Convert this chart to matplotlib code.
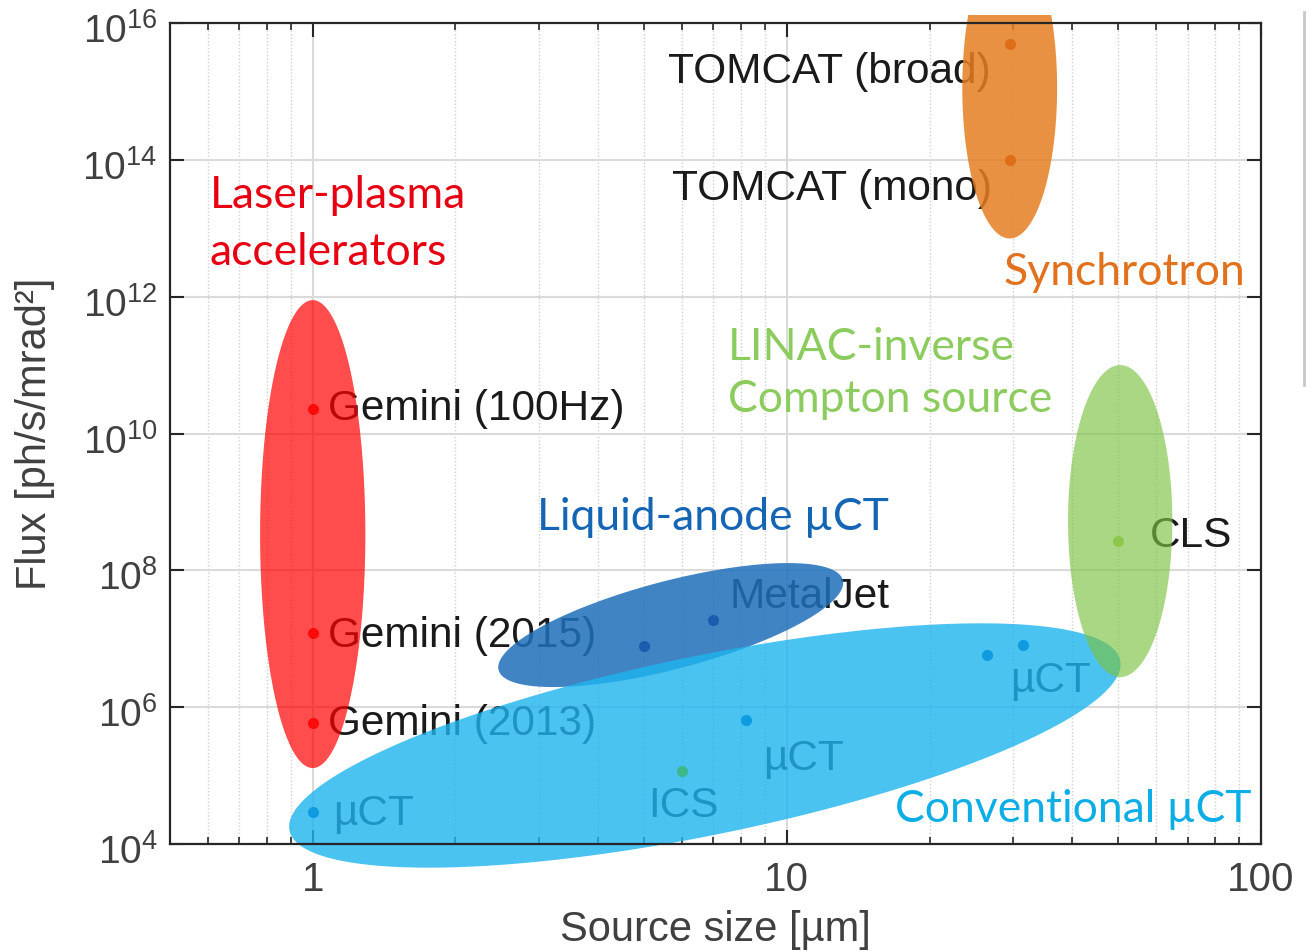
import numpy as np
import matplotlib
matplotlib.use("Agg")
import matplotlib.pyplot as plt
import matplotlib.transforms as mtransforms
from matplotlib.patches import Polygon, Rectangle
from matplotlib.lines import Line2D
from matplotlib.ticker import FixedLocator, FixedFormatter, NullFormatter, NullLocator

plt.rcParams['font.family'] = ['Liberation Sans', 'DejaVu Sans']
plt.rcParams['mathtext.fontset'] = 'custom'
plt.rcParams['mathtext.rm'] = 'Liberation Sans'
plt.rcParams['mathtext.it'] = 'Liberation Sans:italic'
plt.rcParams['mathtext.bf'] = 'Liberation Sans:bold'

# ---- data -------------------------------------------------------------
# source groups: ellipse centre (log10 size, log10 flux), semi-axis vectors in decades
group_names = ["Laser-plasma", "Synchrotron", "LINAC-ICS", "Liquid-anode", "Conventional"]
group_centers = [(0.0, 8.53), (1.47, 15.05), (1.703, 8.72), (0.755, 7.20), (0.827, 5.44)]
group_axis_a = [(0.111, 0.0), (0.10, 0.0), (0.11, 0.0), (0.363, 0.658), (0.876, 1.243)]
group_axis_b = [(0.0, 3.42), (0.0, 2.20), (0.0, 2.28), (0.0234, -0.623), (0.0378, -1.282)]
group_fill = ["#FF0000", "#E67E22", "#7CC242", "#1E6FBA", "#1EB4EE"]
group_alpha = [0.70, 0.85, 0.65, 0.85, 0.80]

# individual sources: size [um], flux [ph/s/mrad^2]
lpa_size = [1.0, 1.0, 1.0]
lpa_flux = [2.3e10, 1.2e7, 5.9e5]
sync_size = [29.6, 29.6]
sync_flux = [5.0e15, 1.0e14]
cls_size = [50.0]
cls_flux = [2.7e8]
metaljet_size = [5.0, 7.0]
metaljet_flux = [7.8e6, 1.9e7]
uct_size = [1.0, 8.2, 26.4, 31.5]
uct_flux = [2.9e4, 6.6e5, 5.8e6, 8.1e6]
ics_size = [6.0]
ics_flux = [1.15e5]

x_ticks = [1, 10, 100]
x_tick_labels = ["1", "10", "100"]
y_ticks = [1e4, 1e6, 1e8, 1e10, 1e12, 1e14, 1e16]
y_tick_labels = [r"$\mathregular{10^{%d}}$" % e for e in (4, 6, 8, 10, 12, 14, 16)]

# ---- figure -----------------------------------------------------------
W, H = 1312, 951
fig = plt.figure(figsize=(W / 100, H / 100), dpi=100)
ax = fig.add_axes([170 / W, 1 - 844 / H, (1261 - 170) / W, (844 - 23) / H])
ax.set_xscale("log")
ax.set_yscale("log")
ax.set_xlim(0.5, 100)
ax.set_ylim(1e4, 1e16)

# grid
minor_x = [m * 10.0 ** d for d in (-1, 0, 1) for m in range(2, 10) if 0.5 < m * 10.0 ** d < 100]
ax.xaxis.set_major_locator(FixedLocator(x_ticks))
ax.xaxis.set_major_formatter(FixedFormatter(x_tick_labels))
ax.xaxis.set_minor_locator(FixedLocator(minor_x))
ax.xaxis.set_minor_formatter(NullFormatter())
ax.yaxis.set_major_locator(FixedLocator(y_ticks))
ax.yaxis.set_major_formatter(FixedFormatter(y_tick_labels))
ax.yaxis.set_minor_locator(NullLocator())
ax.set_axisbelow(True)
ax.grid(True, which="major", color="#DADADA", lw=1.5)
ax.grid(True, which="minor", axis="x", color="#D0D0D0", lw=1.0, ls=(0, (1, 1.5)))

ax.tick_params(which="both", direction="in", top=True, right=True, color="#262626")
ax.tick_params(which="major", length=10, width=1.5, labelcolor="#404040", pad=9)
ax.tick_params(axis="y", which="major", labelsize=28)
ax.tick_params(axis="x", which="major", labelsize=29, pad=12)
ax.tick_params(which="minor", length=5, width=1.2)
for s in ax.spines.values():
    s.set_color("#262626")
    s.set_linewidth(1.6)

# nudge the power-of-ten labels down a little
shift = mtransforms.ScaledTranslation(0, -5 / 100, fig.dpi_scale_trans)
for lbl in ax.get_yticklabels():
    lbl.set_transform(lbl.get_transform() + shift)

ax.set_xlabel("Source size [µm]", fontsize=30, color="#404040", labelpad=8)
ax.set_ylabel("Flux [ph/s/mrad²]", fontsize=30, color="#404040", labelpad=20)

# source labels (drawn beneath the translucent regions)
lab_kw = dict(fontsize=30.5, color="#1A1A1A", ha="left", va="baseline", zorder=1)
source_labels = [
    ("TOMCAT (broad)", 0.749, 15.123),
    ("TOMCAT (mono)", 0.757, 13.412),
    ("Gemini (100Hz)", 0.033, 10.196),
    ("Gemini (2015)", 0.033, 6.877),
    ("Gemini (2013)", 0.033, 5.591),
    ("MetalJet", 0.880, 7.447),
    ("CLS", 1.766, 8.339),
    ("µCT", 0.042, 4.275),
    ("µCT", 0.949, 5.079),
    ("µCT", 1.470, 6.219),
    ("ICS", 0.707, 4.392),
]
for txt, lx, ly in source_labels:
    ax.text(10 ** lx, 10 ** ly, txt, **lab_kw)

# regions may spill past the frame, but not past the top margin
margin_clip = Rectangle((0, 0), 1, 1 - 15 / H, transform=fig.transFigure,
                        facecolor="none", edgecolor="none")
fig.add_artist(margin_clip)

# translucent source regions, built as ellipses in log-log space
t = np.linspace(0, 2 * np.pi, 400)
zorders = [2.0, 2.0, 2.3, 2.1, 2.2]
for c, a, b, fc, al, z in zip(group_centers, group_axis_a, group_axis_b, group_fill, group_alpha, zorders):
    lx = c[0] + np.cos(t) * a[0] + np.sin(t) * b[0]
    ly = c[1] + np.cos(t) * a[1] + np.sin(t) * b[1]
    poly = Polygon(np.column_stack([10 ** lx, 10 ** ly]), closed=True,
                   facecolor=fc, edgecolor="none", alpha=al, zorder=z)
    ax.add_patch(poly)
    poly.set_clip_path(margin_clip)

# source points
ms = 8
ax.plot(lpa_size, lpa_flux, "o", color="#FF0A0A", ms=ms, mec="none", zorder=3)
ax.plot(sync_size, sync_flux, "o", color="#DF6E18", ms=ms, mec="none", zorder=3)
ax.plot(cls_size, cls_flux, "o", color="#8CC84B", ms=ms, mec="none", zorder=3)
ax.plot(metaljet_size, metaljet_flux, "o", color="#1B5CB0", ms=ms, mec="none", zorder=3)
ax.plot(uct_size, uct_flux, "o", color="#0E9BE0", ms=ms, mec="none", zorder=3)
ax.plot(ics_size, ics_flux, "o", color="#3DB88A", ms=ms, mec="none", zorder=3)

# group titles
grp_font = ["Lato", "Open Sans", "DejaVu Sans"]
grp_kw = dict(fontsize=32, ha="left", va="baseline", zorder=4, family=grp_font)
group_labels = [
    ("Laser-plasma", -0.217, 13.295, "#E60012"),
    ("accelerators", -0.217, 12.462, "#E60012"),
    ("Synchrotron", 1.456, 12.17, "#E2711D"),
    ("LINAC-inverse", 0.876, 11.073, "#8CCB5E"),
    ("Compton source", 0.876, 10.313, "#8CCB5E"),
    ("Liquid-anode µCT", 0.4726, 8.588, "#1565B5"),
    ("Conventional µCT", 1.228, 4.319, "#0DAEE6"),
]
for txt, lx, ly, col in group_labels:
    ax.text(10 ** lx, 10 ** ly, txt, color=col, **grp_kw)

# thin frame edge at the right margin
fig.add_artist(Line2D([1304 / W, 1304 / W], [1 - 385 / H, 1 - 12 / H],
                      transform=fig.transFigure, color="#C8C8C8", lw=2))

fig.savefig("out.png", dpi=100)
